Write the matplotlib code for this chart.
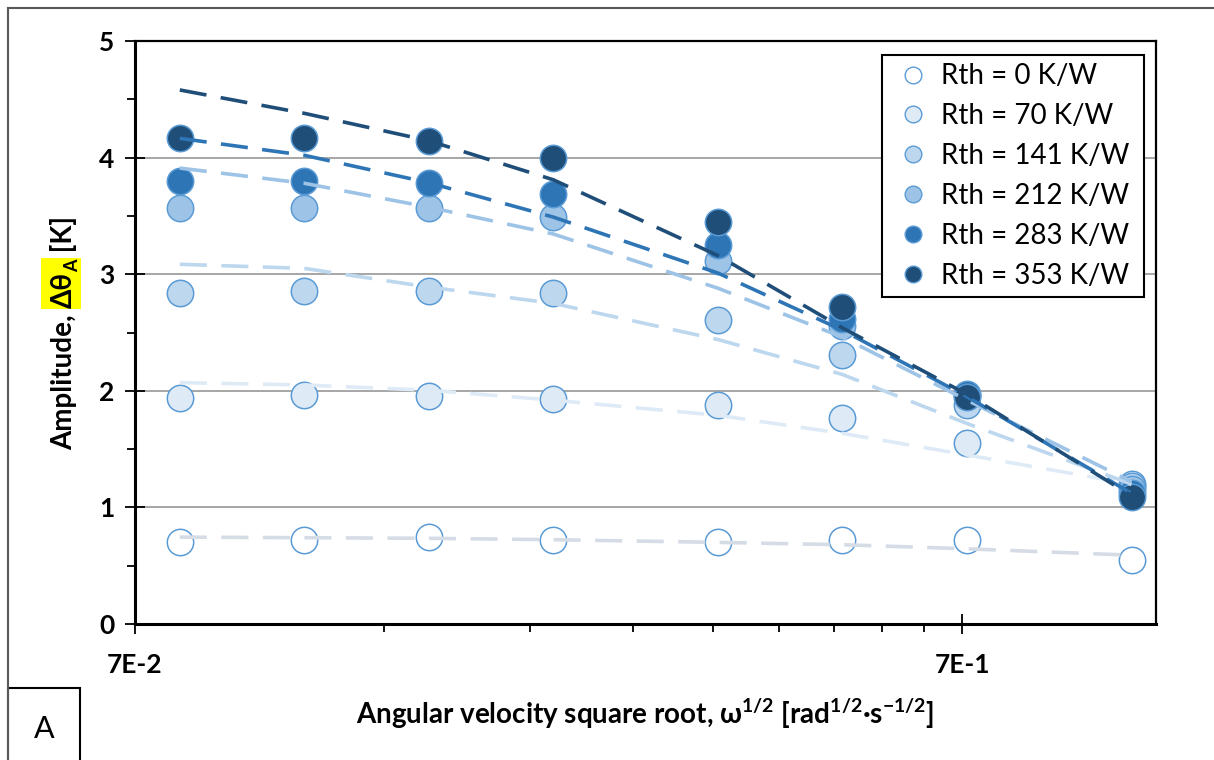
import matplotlib.pyplot as plt
from matplotlib.lines import Line2D
from matplotlib.patches import Rectangle
from matplotlib.ticker import FixedLocator, NullFormatter
from matplotlib.transforms import IdentityTransform

plt.rcParams["font.family"] = ["Lato", "DejaVu Sans"]
plt.rcParams["mathtext.fontset"] = "custom"
plt.rcParams["mathtext.rm"] = "Lato:bold"
plt.rcParams["mathtext.bf"] = "Lato:bold"
plt.rcParams["mathtext.default"] = "bf"

# square root of angular velocity, rad^1/2 s^-1/2
omega_sqrt = [0.0793, 0.1121, 0.1585, 0.2242, 0.3545, 0.5013, 0.7090, 1.1210]

labels = ["Rth = 0 K/W", "Rth = 70 K/W", "Rth = 141 K/W",
          "Rth = 212 K/W", "Rth = 283 K/W", "Rth = 353 K/W"]

# measured amplitudes
meas_0 = [0.70, 0.72, 0.75, 0.72, 0.70, 0.72, 0.72, 0.55]
meas_70 = [1.935, 1.96, 1.955, 1.93, 1.88, 1.77, 1.55, 1.20]
meas_141 = [2.84, 2.86, 2.86, 2.835, 2.61, 2.31, 1.88, 1.18]
meas_212 = [3.57, 3.57, 3.565, 3.49, 3.11, 2.56, 1.96, 1.16]
meas_283 = [3.80, 3.80, 3.785, 3.69, 3.25, 2.62, 1.97, 1.12]
meas_353 = [4.17, 4.17, 4.145, 4.00, 3.445, 2.715, 1.95, 1.09]

# model curves (dashed)
model_0 = [0.745, 0.74, 0.735, 0.723, 0.70, 0.68, 0.645, 0.59]
model_70 = [2.07, 2.05, 2.005, 1.92, 1.79, 1.635, 1.45, 1.20]
model_141 = [3.085, 3.05, 2.89, 2.75, 2.44, 2.14, 1.72, 1.20]
model_212 = [3.91, 3.78, 3.575, 3.345, 2.88, 2.46, 1.92, 1.22]
model_283 = [4.165, 4.02, 3.785, 3.49, 3.01, 2.52, 1.95, 1.12]
model_353 = [4.58, 4.38, 4.145, 3.81, 3.16, 2.54, 1.97, 1.10]

measured = [meas_0, meas_70, meas_141, meas_212, meas_283, meas_353]
models = [model_0, model_70, model_141, model_212, model_283, model_353]

fills = ["white", "#deebf7", "#bdd7ee", "#9dc3e6", "#2e75b6", "#1f4e79"]
line_colors = ["#d6dce5", "#deebf7", "#bdd7ee", "#9dc3e6", "#2e75b6", "#1f4e79"]
edge = "#5b9bd5"

W, H = 1214, 760
px = IdentityTransform()
fig = plt.figure(figsize=(W / 100, H / 100), dpi=100)
ax = fig.add_axes([135 / W, (H - 624) / H, (1156 - 135) / W, (624 - 41) / H])

for vals, fc in zip(measured, fills):
    ax.plot(omega_sqrt, vals, ls="none", marker="o", ms=19, mfc=fc, mec=edge,
            mew=1.1, zorder=3)
for vals, lc in zip(models, line_colors):
    ax.plot(omega_sqrt, vals, color=lc, lw=2.6, ls=(0, (7.5, 4)),
            dash_capstyle="butt", zorder=4)

ax.set_xscale("log")
ax.set_xlim(0.07, 1.2)
ax.set_ylim(0, 5)
ax.xaxis.set_major_locator(FixedLocator([0.07, 0.7]))
ax.set_xticklabels(["7E-2", "7E-1"])
ax.xaxis.set_minor_locator(FixedLocator([0.07 * k for k in range(2, 10)]))
ax.xaxis.set_minor_formatter(NullFormatter())
ax.set_yticks([0, 1, 2, 3, 4, 5])
ax.yaxis.set_minor_locator(FixedLocator([0.5, 1.5, 2.5, 3.5, 4.5]))

ax.tick_params(which="major", direction="inout", length=14, width=1.3,
               labelsize=19, pad=8)
ax.tick_params(which="minor", direction="out", length=6, width=1.3)
ax.tick_params(axis="x", which="major", pad=14)
for lab in ax.get_xticklabels() + ax.get_yticklabels():
    lab.set_fontweight("bold")

ax.grid(axis="y", which="major", color="#a6a6a6", lw=1.4, zorder=0)
ax.set_axisbelow(True)
for side in ["left", "bottom"]:
    ax.spines[side].set_linewidth(2.2)
for side in ["top", "right"]:
    ax.spines[side].set_linewidth(1.6)

handles = [Line2D([], [], ls="none", marker="o", ms=12, mfc=fc, mec=edge, mew=1)
           for fc in fills]
leg = ax.legend(handles, labels, loc="upper left",
                bbox_to_anchor=(0.732, 0.5626, 0.256, 0.4134), mode="expand",
                borderaxespad=0, fontsize=20, frameon=True, fancybox=False,
                framealpha=1, edgecolor="black", handlelength=1.6,
                handletextpad=0.2, labelspacing=0.5, borderpad=0.3)
leg.get_frame().set_linewidth(1.5)

fig.text(645 / W, 1 - 714 / H,
         r"Angular velocity square root, ω$^{1/2}$ [rad$^{1/2}$·s$^{-1/2}$]",
         ha="center", va="center", fontsize=20, fontweight="bold")

# y label built from pieces so the delta-theta part can be highlighted
fig.canvas.draw()
r = fig.canvas.get_renderer()
kw = dict(rotation=90, rotation_mode="anchor", ha="left", va="baseline",
          transform=px, fontweight="bold")
bx = 72
pieces = [("Amplitude, ", 20, 0), ("Δθ", 20, 0), ("A", 13, 6), (" [K]", 20, 0)]
texts = [fig.text(bx + dx, 0, s, fontsize=fs, **kw) for s, fs, dx in pieces]
lengths = [t.get_window_extent(r).height for t in texts]
y = (H - 333) - sum(lengths) / 2
for t, ln in zip(texts, lengths):
    t.set_y(y)
    y += ln
fig.canvas.draw()
b1 = texts[1].get_window_extent(r)
b2 = texts[2].get_window_extent(r)
fig.patches.append(Rectangle((41, b1.y0 - 1), 40, b2.y1 - b1.y0 + 2,
                             transform=px, facecolor="#ffff00",
                             edgecolor="none", zorder=0))

# outer frame and panel letter box
fig.add_artist(Line2D([8, W], [H - 8, H - 8], transform=px, color="#595959", lw=1.5))
fig.add_artist(Line2D([8, 8], [0, H - 8], transform=px, color="#595959", lw=1.5))
fig.patches.append(Rectangle((8, -5), 72, H - 688 + 5, transform=px,
                             facecolor="white", edgecolor="black", lw=1.5))
fig.text(44, H - 729, "A", transform=px, ha="center", va="center", fontsize=22)

fig.savefig("out.png", dpi=100)
